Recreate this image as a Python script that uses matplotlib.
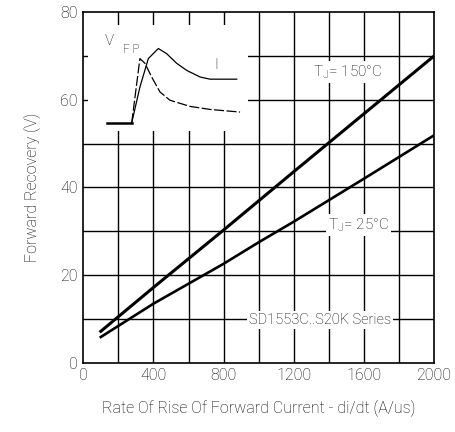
import matplotlib
matplotlib.use("Agg")
from matplotlib import pyplot as plt
from matplotlib.patches import Rectangle

# di/dt (A/us) e tensao de recuperacao direta (V)
didt_150 = [100, 400, 800, 1200, 1600, 2000]
vfr_150 = [7.2, 17.2, 30.3, 43.6, 56.8, 70.0]
didt_25 = [100, 400, 800, 1000, 1200, 1600, 2000]
vfr_25 = [5.9, 13.5, 22.6, 27.5, 32.2, 42.0, 51.9]

xticks = [0, 400, 800, 1200, 1600, 2000]
yticks = [0, 20, 40, 60, 80]

# esboco da forma de onda no canto (em unidades do grafico)
wave_base_x = [133, 276]
wave_base_y = [54.7, 54.7]
wave_i_x = [276, 323, 352, 390, 437, 494, 608, 723, 894]
wave_i_y = [54.7, 69.4, 68.3, 65.2, 61.8, 59.9, 58.5, 57.8, 57.2]
wave_v_x = [276, 323, 371, 428, 476, 533, 590, 666, 723, 875]
wave_v_y = [54.7, 62.9, 69.4, 71.7, 70.5, 68.3, 66.7, 65.2, 64.7, 64.7]

plt.rcParams["font.family"] = ["Roboto", "DejaVu Sans"]
plt.rcParams["font.weight"] = "light"
plt.rcParams["axes.labelweight"] = "light"
plt.rcParams["mathtext.fontset"] = "custom"
plt.rcParams["mathtext.rm"] = "Roboto:light"

fig = plt.figure(figsize=(4.55, 4.32), dpi=100)
ax = fig.add_axes([0.183, 0.160, 0.771, 0.812])

for x in range(200, 2000, 200):
    ax.axvline(x, color="black", lw=1.0, zorder=1)
for y in range(10, 80, 10):
    ax.axhline(y, color="black", lw=1.0, zorder=1)

# caixa branca do esboco por cima da grade
ax.add_patch(Rectangle((27, 52.8), 912, 24.2, facecolor="white", edgecolor="none", zorder=2))
ax.plot(wave_base_x, wave_base_y, color="black", lw=1.8, zorder=3)
ax.plot(wave_i_x, wave_i_y, color="black", lw=0.9, ls=(0, (8, 2)), zorder=3)
ax.plot(wave_v_x, wave_v_y, color="black", lw=0.9, zorder=3)
ax.text(120, 72.6, "V", fontsize=11, zorder=4)
ax.text(228, 70.6, "F P", fontsize=8.5, zorder=4)
ax.text(745, 67.0, "I", fontsize=11, zorder=4)

ax.plot(didt_150, vfr_150, color="black", lw=2.2, zorder=3)
ax.plot(didt_25, vfr_25, color="black", lw=1.9, zorder=3)

box = dict(facecolor="white", edgecolor="none", pad=1.5)
ax.text(1510, 66.3, "T$_\\mathregular{J}$= 150°C", fontsize=11, ha="center", va="center", bbox=box, zorder=4)
ax.text(1570, 31.5, "T$_\\mathregular{J}$= 25°C", fontsize=11, ha="center", va="center", bbox=box, zorder=4)
ax.text(1350, 9.8, "SD1553C..S20K Series", fontsize=10.5, ha="center", va="center", bbox=box, zorder=4)

ax.set_xlim(0, 2000)
ax.set_ylim(0, 80)
ax.set_xticks(xticks)
ax.set_yticks(yticks)
ax.tick_params(length=0, labelsize=11.5, pad=4)
for s in ax.spines.values():
    s.set_linewidth(1.2)
    s.set_zorder(5)

ax.set_xlabel("Rate Of Rise Of Forward Current - di/dt (A/us)", fontsize=11.5, labelpad=12)
ax.set_ylabel("Forward Recovery (V)", fontsize=11.5, labelpad=14)

fig.savefig("out.png", dpi=100)
